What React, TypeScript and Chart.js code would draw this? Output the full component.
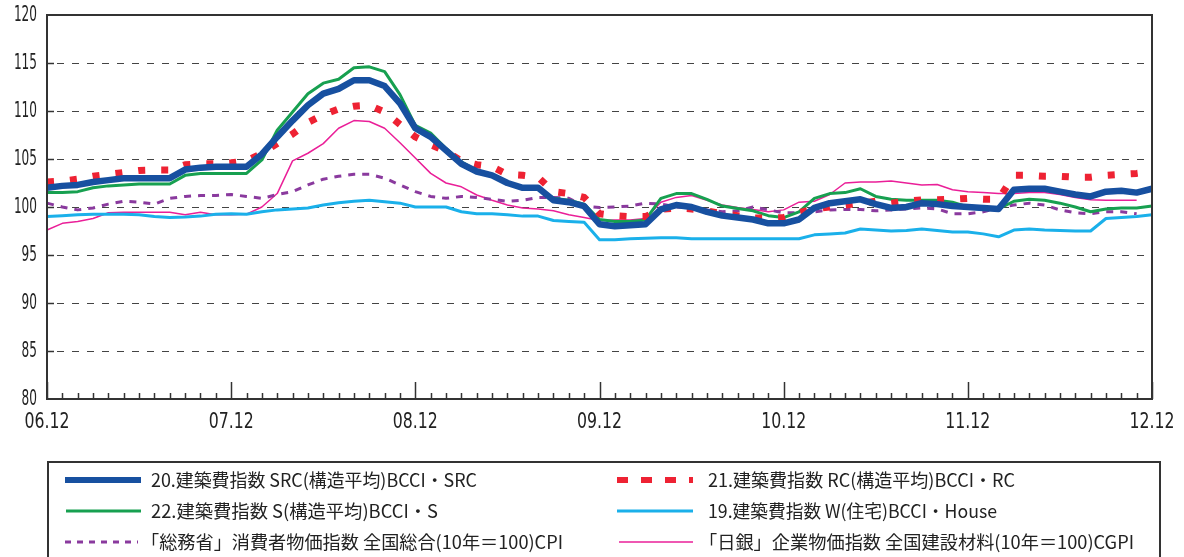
import { useEffect, useRef } from "react";
import { Chart, registerables } from "chart.js";

Chart.register(...registerables);

// ---- categories (monthly, 06.12 .. 12.12) ----
const months: string[] = [];
for (let y = 6; y <= 12; y++) {
  for (let m = 1; m <= 12; m++) {
    if (y === 6 && m < 12) continue;
    months.push(String(y).padStart(2, "0") + "." + String(m).padStart(2, "0"));
  }
}
const yearTickLabels = ["06.12", "07.12", "08.12", "09.12", "10.12", "11.12", "12.12"];
const yTickValues = [80, 85, 90, 95, 100, 105, 110, 115, 120];
const yGridValues = [85, 90, 95, 100, 105, 110, 115];

// ---- series values ----
const srcValues = [
  102.0, 102.2, 102.3, 102.6, 102.8, 103.0, 103.0, 103.0, 103.0, 103.9, 104.1, 104.2,
  104.2, 104.2, 105.5, 107.3, 109.0, 110.6, 111.8, 112.3, 113.2, 113.2, 112.6, 110.8,
  108.2, 107.3, 105.9, 104.5, 103.7, 103.3, 102.5, 102.0, 102.0, 100.7, 100.5, 100.1,
  98.2, 98.0, 98.1, 98.2, 99.75, 100.2, 100.0, 99.5, 99.1, 98.9, 98.7, 98.3,
  98.3, 98.7, 99.9, 100.4, 100.6, 100.8, 100.3, 99.9, 100.0, 100.4, 100.3, 100.1,
  100.0, 99.9, 99.8, 101.8, 101.9, 101.9, 101.6, 101.3, 101.1, 101.6, 101.7, 101.5,
  101.9,
];
const rcValues = [
  102.6, 102.7, 102.9, 103.2, 103.4, 103.6, 103.8, 103.85, 103.85, 104.4, 104.5, 104.5,
  104.6, 104.8, 105.6, 106.6, 107.6, 108.8, 109.6, 110.2, 110.5, 110.6, 109.9, 108.6,
  107.3, 106.5, 105.8, 104.8, 104.4, 104.2, 103.4, 103.3, 103.1, 101.6, 101.4, 101.0,
  99.3, 99.1, 99.0, 99.0, 99.75, 99.9, 99.8, 99.6, 99.3, 99.1, 98.85, 98.85,
  98.9, 99.4, 99.8, 100.0, 100.2, 100.4, 100.6, 100.4, 100.6, 100.75, 100.75, 100.8,
  100.9, 100.8, 100.8, 103.3, 103.3, 103.2, 103.2, 103.1, 103.1, 103.3, 103.4, 103.5,
  103.7,
];
const sValues = [
  101.5, 101.5, 101.6, 102.0, 102.2, 102.3, 102.4, 102.4, 102.4, 103.3, 103.5, 103.5,
  103.5, 103.5, 104.9, 108.0, 109.9, 111.8, 112.9, 113.3, 114.5, 114.6, 114.1, 111.7,
  108.5, 107.7, 106.1, 104.7, 103.8, 103.4, 102.6, 102.1, 102.0, 100.9, 100.7, 100.3,
  98.7, 98.5, 98.5, 98.65, 100.9, 101.4, 101.4, 100.8, 100.1, 99.85, 99.6, 99.1,
  98.9, 99.5, 100.9, 101.4, 101.5, 101.9, 101.1, 100.8, 100.7, 100.7, 100.7, 100.5,
  100.0, 99.9, 99.8, 100.6, 100.8, 100.7, 100.4, 100.0, 99.5, 99.8, 99.9, 99.9,
  100.1,
];
const houseValues = [
  99.0, 99.1, 99.2, 99.25, 99.25, 99.25, 99.2, 99.0, 98.9, 98.95, 99.05, 99.25,
  99.3, 99.25, 99.5, 99.7, 99.8, 99.9, 100.2, 100.45, 100.6, 100.7, 100.55, 100.4,
  100.0, 100.0, 100.0, 99.5, 99.3, 99.3, 99.2, 99.05, 99.05, 98.6, 98.5, 98.4,
  96.6, 96.6, 96.7, 96.75, 96.8, 96.8, 96.7, 96.7, 96.7, 96.7, 96.7, 96.7,
  96.7, 96.7, 97.1, 97.2, 97.3, 97.7, 97.6, 97.5, 97.55, 97.7, 97.55, 97.4,
  97.4, 97.2, 96.9, 97.6, 97.7, 97.6, 97.55, 97.5, 97.5, 98.8, 98.9, 99.0,
  99.2,
];
const cpiValues: (number | null)[] = [
  100.4, 100.0, 99.7, 99.9, 100.3, 100.6, 100.5, 100.3, 100.9, 101.1, 101.2, 101.2,
  101.3, 101.1, 100.9, 101.3, 101.6, 102.3, 102.9, 103.2, 103.4, 103.4, 103.0, 102.3,
  101.6, 101.1, 100.9, 101.1, 101.0, 100.8, 100.6, 100.7, 101.0, 101.0, 100.9, 100.1,
  99.95, 100.0, 100.1, 100.4, 100.3, 100.0, 99.9, 99.7, 99.5, 99.6, 100.0, 99.7,
  99.4, 99.4, 99.5, 99.7, 99.75, 99.75, 99.6, 99.7, 99.8, 99.9, 99.8, 99.3,
  99.3, 99.5, 99.9, 100.2, 100.4, 100.2, 99.7, 99.4, 99.3, 99.5, 99.5, 99.3,
  null,
];
const cgpiValues: (number | null)[] = [
  97.6, 98.3, 98.5, 98.8, 99.4, 99.45, 99.45, 99.45, 99.45, 99.2, 99.45, 99.2,
  99.2, 99.25, 100.0, 101.4, 104.8, 105.6, 106.6, 108.2, 109.0, 108.9, 108.2, 106.7,
  105.1, 103.5, 102.5, 102.1, 101.25, 100.7, 100.2, 99.9, 99.8, 99.6, 99.2, 98.9,
  98.6, 98.65, 98.65, 98.8, 100.5, 101.0, 101.2, 100.7, 100.2, 99.95, 99.75, 99.5,
  99.7, 100.5, 100.6, 101.3, 102.5, 102.6, 102.6, 102.7, 102.5, 102.3, 102.35, 101.8,
  101.6, 101.5, 101.4, 101.4, 101.5, 101.5, 101.3, 101.0, 100.75, 100.7, 100.7, 100.7,
  null,
];

type Series = {
  label: string;
  data: (number | null)[];
  color: string;
  width: number;
  dash: number[];
  legendDash: number[];
  legendWidth: number;
  order: number;
};

const series: Series[] = [
  { label: "20.建築費指数 SRC(構造平均)BCCI・SRC", data: srcValues, color: "#1750a0", width: 6.5, dash: [], legendDash: [], legendWidth: 6, order: 0 },
  { label: "21.建築費指数 RC(構造平均)BCCI・RC", data: rcValues, color: "#ee2233", width: 7, dash: [7, 16], legendDash: [11, 13], legendWidth: 6, order: 1 },
  { label: "22.建築費指数 S(構造平均)BCCI・S", data: sValues, color: "#17a050", width: 3, dash: [], legendDash: [], legendWidth: 3, order: 2 },
  { label: "19.建築費指数 W(住宅)BCCI・House", data: houseValues, color: "#1ab0ea", width: 3, dash: [], legendDash: [], legendWidth: 3, order: 3 },
  { label: "「総務省」消費者物価指数 全国総合(10年＝100)CPI", data: cpiValues, color: "#8a3a9e", width: 3, dash: [7, 7], legendDash: [6, 6], legendWidth: 3, order: 4 },
  { label: "「日銀」企業物価指数 全国建設材料(10年＝100)CGPI", data: cgpiValues, color: "#ea1f98", width: 1.5, dash: [], legendDash: [], legendWidth: 1.5, order: 5 },
];

// legend layout: [seriesIndex, lineX0, lineX1, textX, textTargetWidth, rowY]
const legendSlots: [number, number, number, number, number, number][] = [
  [0, 65, 141, 151, 326, 480],
  [2, 66, 141, 151, 287, 511],
  [4, 65, 138, 141, 422, 542],
  [1, 617, 693, 708, 307, 480],
  [3, 617, 693, 708, 289, 511],
  [5, 619, 693, 699, 435, 542],
];

const AXIS_FONT = '22px "DejaVu Sans", sans-serif';

function drawScaledText(ctx: CanvasRenderingContext2D, text: string, x: number, y: number, targetW: number, align: "left" | "right" | "center") {
  const natural = ctx.measureText(text).width;
  const sx = targetW / natural;
  ctx.save();
  ctx.translate(x, y);
  ctx.scale(sx, 1);
  ctx.textAlign = align;
  ctx.fillText(text, 0, 0);
  ctx.restore();
}

const decorPlugin = {
  id: "decor",
  beforeDatasetsDraw(chart: any) {
    const { ctx, chartArea: a, scales } = chart;
    const y = scales.y;
    ctx.save();
    ctx.strokeStyle = "#444";
    ctx.lineWidth = 1;
    ctx.setLineDash([7, 8]);
    for (const v of yGridValues) {
      const py = Math.round(y.getPixelForValue(v)) + 0.5;
      ctx.beginPath();
      ctx.moveTo(a.left + 10, py);
      ctx.lineTo(a.right, py);
      ctx.stroke();
    }
    ctx.restore();
  },
  afterDatasetsDraw(chart: any) {
    const { ctx, chartArea: a, scales } = chart;
    const x = scales.x;
    const y = scales.y;
    ctx.save();
    ctx.strokeStyle = "#333";
    ctx.lineWidth = 2;
    ctx.setLineDash([]);
    ctx.strokeRect(a.left, a.top, a.right - a.left, a.bottom - a.top);
    ctx.lineWidth = 1.5;
    for (const v of yGridValues) {
      const py = Math.round(y.getPixelForValue(v)) + 0.5;
      ctx.beginPath();
      ctx.moveTo(a.left, py);
      ctx.lineTo(a.left + 7, py);
      ctx.stroke();
    }
    for (let i = 0; i < months.length; i++) {
      const px = Math.round(x.getPixelForValue(i)) + 0.5;
      const len = yearTickLabels.includes(months[i]) ? 17 : 6;
      ctx.beginPath();
      ctx.moveTo(px, a.bottom);
      ctx.lineTo(px, a.bottom - len);
      ctx.stroke();
    }
    // axis tick labels (condensed)
    ctx.fillStyle = "#222";
    ctx.font = AXIS_FONT;
    ctx.textBaseline = "middle";
    for (const v of yTickValues) {
      const t = String(v);
      drawScaledText(ctx, t, a.left - 10, y.getPixelForValue(v), 7.7 * t.length, "right");
    }
    for (let i = 0; i < months.length; i++) {
      if (!yearTickLabels.includes(months[i])) continue;
      drawScaledText(ctx, months[i], x.getPixelForValue(i), a.bottom + 23, 45, "center");
    }
    ctx.restore();
  },
  afterDraw(chart: any) {
    const { ctx } = chart;
    ctx.save();
    ctx.strokeStyle = "#333";
    ctx.lineWidth = 2;
    ctx.setLineDash([]);
    ctx.strokeRect(48, 462, 1112, 130);
    ctx.font = '18px "Noto Sans CJK JP", sans-serif';
    ctx.textBaseline = "middle";
    ctx.fillStyle = "#222";
    for (const [si, x0, x1, tx, tw, ry] of legendSlots) {
      const s = series[si];
      ctx.save();
      ctx.strokeStyle = s.color;
      ctx.lineWidth = s.legendWidth;
      ctx.lineCap = "butt";
      ctx.setLineDash(s.legendDash);
      ctx.beginPath();
      ctx.moveTo(x0, ry);
      ctx.lineTo(x1, ry);
      ctx.stroke();
      ctx.restore();
      drawScaledText(ctx, s.label, tx, ry, tw, "left");
    }
    ctx.restore();
  },
};

export default function App() {
  const canvasRef = useRef<HTMLCanvasElement | null>(null);

  useEffect(() => {
    document.body.style.margin = "0";
    const canvas = canvasRef.current;
    if (!canvas) return;
    const chart = new Chart(canvas, {
      type: "line",
      data: {
        labels: months,
        datasets: series.map((s) => ({
          label: s.label,
          data: s.data,
          borderColor: s.color,
          backgroundColor: s.color,
          borderWidth: s.width,
          borderDash: s.dash,
          borderCapStyle: "butt",
          borderJoinStyle: "round",
          pointRadius: 0,
          pointHoverRadius: 0,
          tension: 0,
          fill: false,
          spanGaps: false,
          order: s.order,
        })),
      },
      options: {
        responsive: false,
        animation: false,
        devicePixelRatio: 1,
        layout: { padding: { left: 0, top: 15, right: 32, bottom: 0 } },
        plugins: {
          legend: { display: false },
          tooltip: { enabled: false },
          title: { display: false },
        },
        scales: {
          x: {
            type: "category",
            offset: false,
            grid: { display: false, drawTicks: false },
            border: { display: false },
            ticks: { display: false },
            afterFit: (scale: any) => {
              scale.height = 557 - 399;
            },
          },
          y: {
            min: 80,
            max: 120,
            grid: { display: false, drawTicks: false },
            border: { display: false },
            ticks: { display: false, stepSize: 5 },
            afterFit: (scale: any) => {
              scale.width = 47;
            },
          },
        },
      },
      plugins: [decorPlugin],
    } as any);
    return () => chart.destroy();
  }, []);

  return (
    <div style={{ width: 1184, height: 557, background: "#fff" }}>
      <canvas ref={canvasRef} width={1184} height={557} style={{ display: "block", width: 1184, height: 557 }} />
    </div>
  );
}
